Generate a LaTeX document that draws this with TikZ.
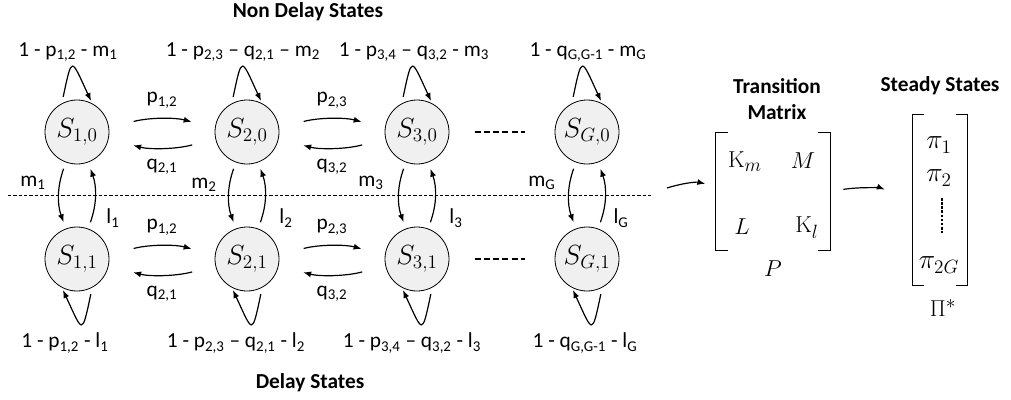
\documentclass[tikz,border=0pt]{standalone}
\usepackage[no-math]{fontspec}
\setmainfont{Carlito}
\usetikzlibrary{arrows.meta, positioning, calc}
\newcommand{\sbs}[1]{\textsubscript{#1}}

\begin{document}
\begin{tikzpicture}[
    x=0.75pt, y=0.75pt,
    node distance=95.25pt and 127.5pt, on grid,
    state/.style={circle, draw, line width=0.6pt, fill=gray!12, minimum size=48pt, inner sep=0pt, font=\fontsize{21}{21}\selectfont},
    arrow/.style={-{Latex[length=6pt, width=4.5pt]}, line width=0.9pt},
    lbl/.style={font=\fontsize{16}{18}\selectfont, inner sep=1pt},
    title/.style={font=\fontsize{16}{20}\selectfont\bfseries, align=center},
    ent/.style={font=\fontsize{19}{19}\selectfont},
    vent/.style={font=\fontsize{20}{20}\selectfont},
    dots/.style={line width=2.2pt, dash pattern=on 4.5pt off 2.4pt},
    bracket/.style={line width=0.8pt}
]
\useasboundingbox (0,0) rectangle (1011,-400);

% NON DELAY STATES (top row)
\node[state] (S10) at (77,-132) {$S_{1,0}$};
\node[state, right=of S10] (S20) {$S_{2,0}$};
\node[state, right=of S20] (S30) {$S_{3,0}$};
\node[state, right=of S30] (SG0) {$S_{G,0}$};

% DELAY STATES (bottom row)
\node[state, below=of S10] (S11) {$S_{1,1}$};
\node[state, below=of S20] (S21) {$S_{2,1}$};
\node[state, below=of S30] (S31) {$S_{3,1}$};
\node[state, below=of SG0] (SG1) {$S_{G,1}$};

% Titles
\node[title] (t_non) at (308,-12) {Non Delay States};
\node[title] (t_del) at (310,-383) {Delay States};

% Dividing line
\coordinate (div_l) at (8,-195);
\coordinate (div_r) at (652,-195);
\draw[line width=0.6pt, dash pattern=on 2.5pt off 1.5pt] (div_l) -- (div_r);

% Self loops, top row
\draw[arrow, shorten <=5pt, shorten >=2pt] (S10.118) .. controls +(78:50) and +(115:50) .. (S10.62);
\draw[arrow, shorten <=5pt, shorten >=2pt] (S20.118) .. controls +(78:50) and +(115:50) .. (S20.62);
\draw[arrow, shorten <=5pt, shorten >=2pt] (S30.118) .. controls +(78:50) and +(115:50) .. (S30.62);
\draw[arrow, shorten <=5pt, shorten >=2pt] (SG0.118) .. controls +(78:50) and +(115:50) .. (SG0.62);
\node[lbl] at ($(S10)+(-9,80)$) {1 - p\sbs{1,2} - m\sbs{1}};
\node[lbl] at ($(S20)+(-4,80)$) {1 - p\sbs{2,3} -- q\sbs{2,1} -- m\sbs{2}};
\node[lbl] at ($(S30)+(-3,80)$) {1 - p\sbs{3,4} -- q\sbs{3,2} - m\sbs{3}};
\node[lbl] at ($(SG0)+(1,80)$) {1 - q\sbs{G,G-1} - m\sbs{G}};

% Self loops, bottom row
\draw[arrow, shorten <=5pt, shorten >=2pt] (S11.-62) .. controls +(-102:50) and +(-65:50) .. (S11.-118);
\draw[arrow, shorten <=5pt, shorten >=2pt] (S21.-62) .. controls +(-102:50) and +(-65:50) .. (S21.-118);
\draw[arrow, shorten <=5pt, shorten >=2pt] (S31.-62) .. controls +(-102:50) and +(-65:50) .. (S31.-118);
\draw[arrow, shorten <=5pt, shorten >=2pt] (SG1.-62) .. controls +(-102:50) and +(-65:50) .. (SG1.-118);
\node[lbl] at ($(S11)+(-12,-84)$) {1 - p\sbs{1,2} - l\sbs{1}};
\node[lbl] at ($(S21)+(-11,-84)$) {1 - p\sbs{2,3} -- q\sbs{2,1} - l\sbs{2}};
\node[lbl] at ($(S31)+(-5,-84)$) {1 - p\sbs{3,4} -- q\sbs{3,2} - l\sbs{3}};
\node[lbl] at ($(SG1)+(-2,-84)$) {1 - q\sbs{G,G-1} - l\sbs{G}};

% Forward / backward arrows, top row
\draw[arrow, shorten <=19pt, shorten >=18pt] (S10.7) to[bend left=15] node[lbl, midway, yshift=15pt] {p\sbs{1,2}} (S20.173);
\draw[arrow, shorten <=18pt, shorten >=19pt] (S20.192) to[bend left=15] node[lbl, midway, yshift=-15pt] {q\sbs{2,1}} (S10.348);
\draw[arrow, shorten <=19pt, shorten >=18pt] (S20.7) to[bend left=15] node[lbl, midway, yshift=15pt] {p\sbs{2,3}} (S30.173);
\draw[arrow, shorten <=18pt, shorten >=19pt] (S30.192) to[bend left=15] node[lbl, midway, yshift=-15pt] {q\sbs{3,2}} (S20.348);
\draw[dots, shorten <=19pt, shorten >=22pt] (S30) -- (SG0);

% Forward / backward arrows, bottom row
\draw[arrow, shorten <=19pt, shorten >=18pt] (S11.7) to[bend left=15] node[lbl, midway, yshift=15pt] {p\sbs{1,2}} (S21.173);
\draw[arrow, shorten <=18pt, shorten >=19pt] (S21.192) to[bend left=15] node[lbl, midway, yshift=-15pt] {q\sbs{2,1}} (S11.348);
\draw[arrow, shorten <=19pt, shorten >=18pt] (S21.7) to[bend left=15] node[lbl, midway, yshift=15pt] {p\sbs{2,3}} (S31.173);
\draw[arrow, shorten <=18pt, shorten >=19pt] (S31.192) to[bend left=15] node[lbl, midway, yshift=-15pt] {q\sbs{3,2}} (S21.348);
\draw[dots, shorten <=19pt, shorten >=22pt] (S31) -- (SG1);

% Moving between non delay and delay states
\draw[arrow, shorten <=5pt, shorten >=5pt] (S10.250) to[bend right=20] (S11.110);
\draw[arrow, shorten <=5pt, shorten >=5pt] (S11.70) to[bend right=20] (S10.290);
\draw[arrow, shorten <=5pt, shorten >=5pt] (S20.250) to[bend right=20] (S21.110);
\draw[arrow, shorten <=5pt, shorten >=5pt] (S21.70) to[bend right=20] (S20.290);
\draw[arrow, shorten <=5pt, shorten >=5pt] (S30.250) to[bend right=20] (S31.110);
\draw[arrow, shorten <=5pt, shorten >=5pt] (S31.70) to[bend right=20] (S30.290);
\draw[arrow, shorten <=5pt, shorten >=5pt] (SG0.250) to[bend right=20] (SG1.110);
\draw[arrow, shorten <=5pt, shorten >=5pt] (SG1.70) to[bend right=20] (SG0.290);
\node[lbl] at ($(S10)+(-44,-51)$) {m\sbs{1}};
\node[lbl] at ($(S20)+(-43,-53)$) {m\sbs{2}};
\node[lbl] at ($(S30)+(-46,-51)$) {m\sbs{3}};
\node[lbl] at ($(SG0)+(-45,-51)$) {m\sbs{G}};
\node[lbl] at ($(S11)+(36,41)$) {l\sbs{1}};
\node[lbl] at ($(S21)+(39,41)$) {l\sbs{2}};
\node[lbl] at ($(S31)+(39,41)$) {l\sbs{3}};
\node[lbl] at ($(SG1)+(34,41)$) {l\sbs{G}};

% TRANSITION MATRIX
\node[minimum width=85.5pt, minimum height=87.75pt, inner sep=0pt] (TM) at (773,-191.5) {};
\draw[bracket] ([xshift=9pt]TM.north west) -- (TM.north west) -- (TM.south west) -- ([xshift=9pt]TM.south west);
\draw[bracket] ([xshift=-9pt]TM.north east) -- (TM.north east) -- (TM.south east) -- ([xshift=-9pt]TM.south east);
\node[ent] (Km) at ($(TM)+(-28,30)$) {$\mathrm{K}_m$};
\node[ent] (Mm) at ($(TM)+(30,31)$) {$M$};
\node[ent] (Lm) at ($(TM)+(-31,-35)$) {$L$};
\node[ent] (Kl) at ($(TM)+(34,-36)$) {$\mathrm{K}_l$};
\node[ent] (Pm) at ($(TM.south)+(0,-18)$) {$P$};
\node[title] (t_tm) at (777,-99) {Transition\\Matrix};

% STEADY STATES
\node[minimum width=41.25pt, minimum height=127.5pt, inner sep=0pt] (SS) at (940,-200) {};
\draw[bracket] ([xshift=9pt]SS.north west) -- (SS.north west) -- (SS.south west) -- ([xshift=9pt]SS.south west);
\draw[bracket] ([xshift=-9pt]SS.north east) -- (SS.north east) -- (SS.south east) -- ([xshift=-9pt]SS.south east);
\node[vent] (pi1) at ($(SS)+(-1,55)$) {$\pi_1$};
\node[vent] (pi2) at ($(SS)+(-1,22)$) {$\pi_2$};
\coordinate (vd_t) at ($(SS)+(2,2)$);
\coordinate (vd_b) at ($(SS)+(2,-33)$);
\draw[line width=2pt, dash pattern=on 2pt off 1.1pt] (vd_t) -- (vd_b);
\node[vent] (pi2G) at ($(SS)+(-1,-65)$) {$\pi_{2G}$};
\node[ent] (Pi) at ($(SS.south)+(3,-23)$) {$\Pi^*$};
\node[title] (t_ss) at (940,-86) {Steady States};

% Arrows into the matrices
\coordinate (in_tm) at (667,-188);
\draw[arrow, shorten >=8pt] (in_tm) to[bend left=15] ([yshift=4pt]TM.west);
\draw[arrow, shorten <=10pt, shorten >=22pt] (TM.east) to[bend left=15] (SS.west);

\end{tikzpicture}
\end{document}
